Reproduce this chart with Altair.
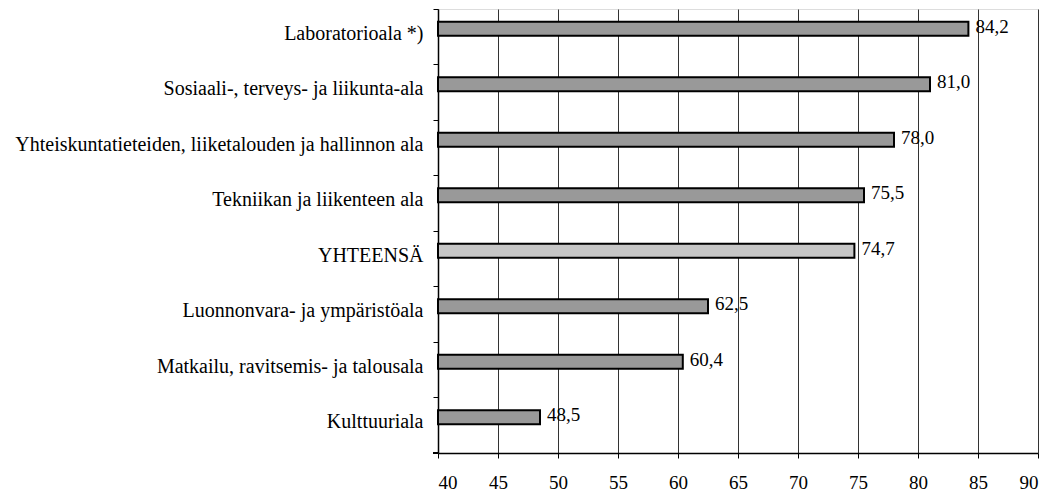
import altair as alt
import pandas as pd

categories = [
    "Laboratorioala *)",
    "Sosiaali-, terveys- ja liikunta-ala",
    "Yhteiskuntatieteiden, liiketalouden ja hallinnon ala",
    "Tekniikan ja liikenteen ala",
    "YHTEENSÄ",
    "Luonnonvara- ja ympäristöala",
    "Matkailu, ravitsemis- ja talousala",
    "Kulttuuriala",
]
values = [84.2, 81.0, 78.0, 75.5, 74.7, 62.5, 60.4, 48.5]
kinds = ["ala", "ala", "ala", "ala", "total", "ala", "ala", "ala"]

df = pd.DataFrame({
    "cat": categories,
    "val": values,
    "kind": kinds,
    "label": [f"{v:.1f}".replace(".", ",") for v in values],
})

FONT = "Liberation Serif"

y = alt.Y(
    "cat:N",
    sort=categories,
    title=None,
    scale=alt.Scale(paddingInner=0, paddingOuter=0),
    axis=alt.Axis(
        bandPosition=0,
        labelOffset=-3,
        tickSize=5,
        tickColor="black",
        domainColor="black",
        domainWidth=1.5,
        labelPadding=10,
        labelFont=FONT,
        labelFontSize=20,
        labelColor="black",
        labelLimit=600,
        minExtent=430,
        maxExtent=430,
        grid=False,
    ),
)

x = alt.X(
    "val:Q",
    title=None,
    scale=alt.Scale(domain=[40, 90], nice=False, zero=False),
    axis=alt.Axis(
        values=list(range(40, 95, 5)),
        tickSize=5,
        tickColor="black",
        domainColor="black",
        domainWidth=1.5,
        labelPadding=15,
        labelFont=FONT,
        labelFontSize=19,
        labelColor="black",
        grid=True,
        gridColor="#333333",
        gridWidth=1,
        gridOpacity=1,
    ),
)

bars = alt.Chart(df).mark_bar(
    size=14, yOffset=-8, stroke="black", strokeWidth=2
).encode(
    y=y,
    x=x,
    x2=alt.datum(40),
    color=alt.Color(
        "kind:N",
        scale=alt.Scale(domain=["ala", "total"], range=["#999999", "#c6c6c6"]),
        legend=None,
    ),
)

texts = alt.Chart(df).mark_text(
    align="left", baseline="middle", dx=7, yOffset=-10,
    font=FONT, fontSize=19, color="black"
).encode(
    y=alt.Y("cat:N", sort=categories),
    x=alt.X("val:Q"),
    text="label:N",
)

bottom_tick = alt.Chart(df).mark_rule(color="black", strokeWidth=1).encode(
    x=alt.value(-5), x2=alt.value(0), y=alt.value(444)
)

chart = (bars + texts + bottom_tick).properties(
    width=600, height=444, padding=0
).configure_view(
    stroke="#bbbbbb", strokeWidth=1
).configure(background="white")

chart.save("out.html", embed_options={"renderer": "svg", "actions": False})
